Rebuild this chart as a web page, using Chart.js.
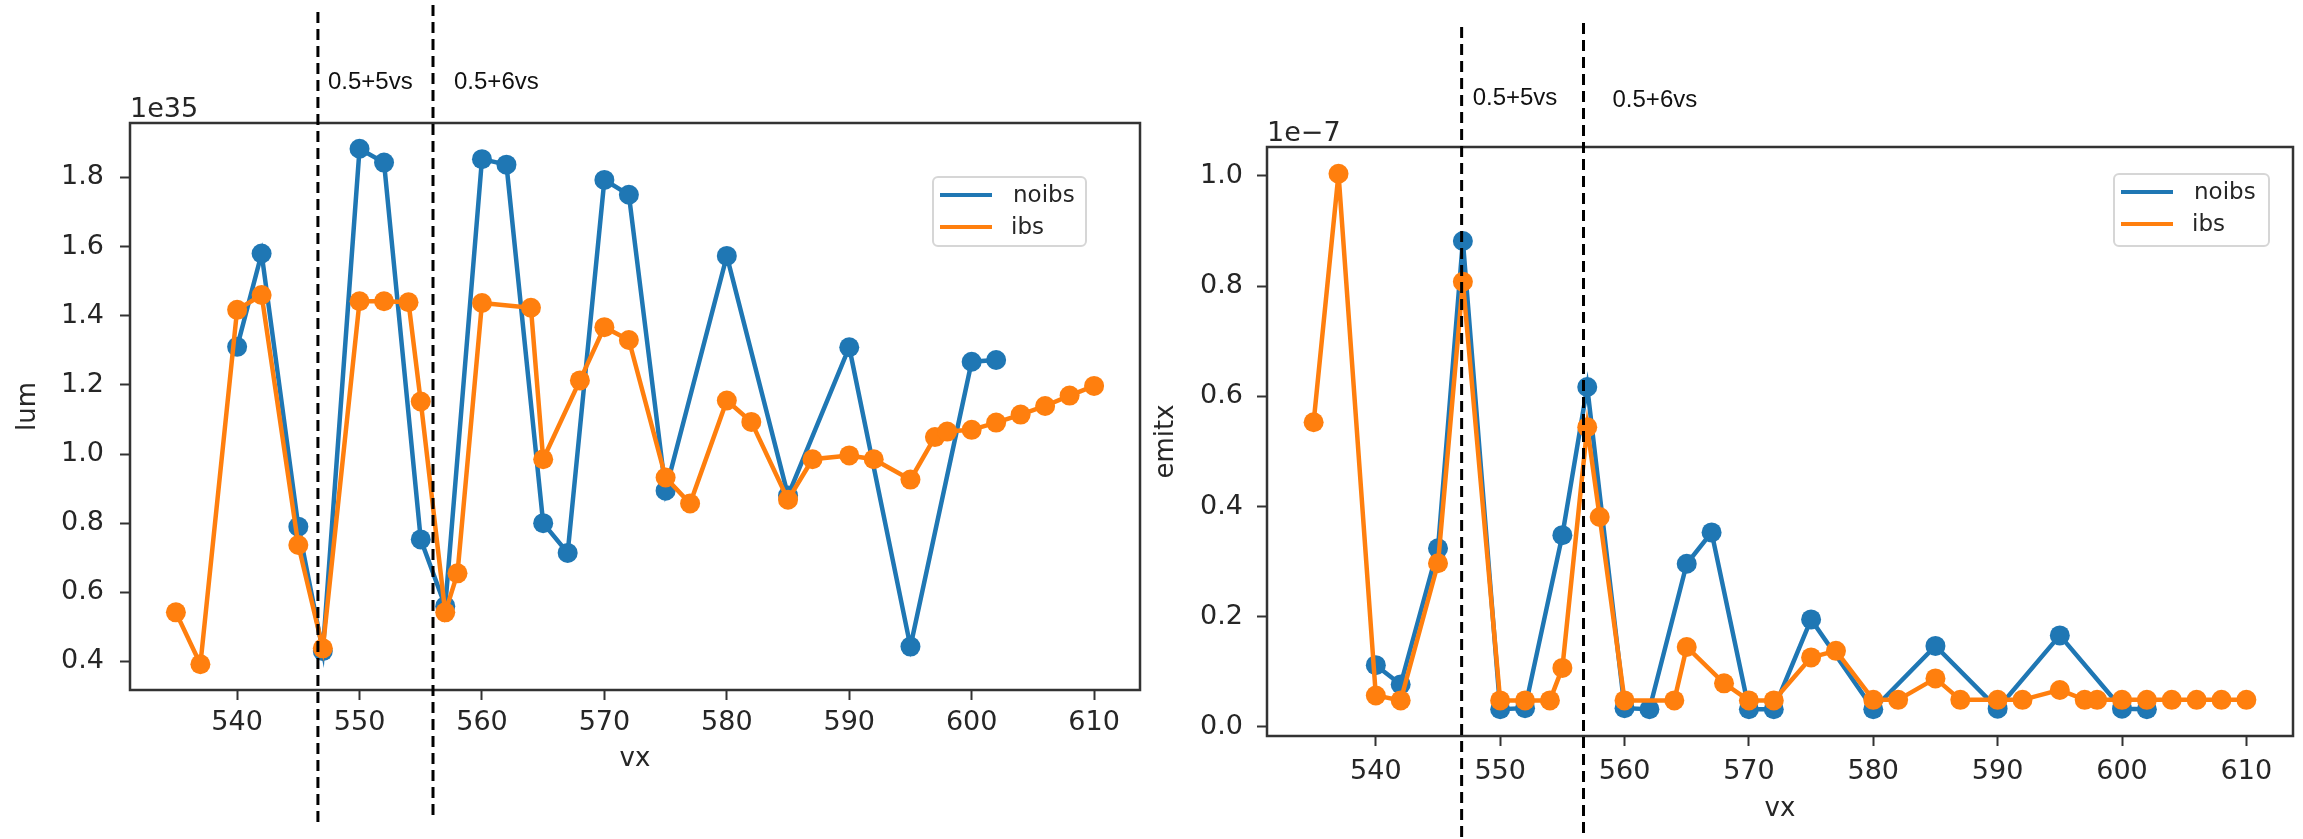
<!DOCTYPE html>
<html>
<head>
<meta charset="utf-8">
<script src="https://cdn.jsdelivr.net/npm/chart.js@4.4.1/dist/chart.umd.min.js"></script>
<style>
  body { margin: 0; background: #fff; width: 2303px; height: 839px; overflow: hidden; }
  #wrap { position: relative; width: 2303px; height: 839px; }
  canvas { position: absolute; top: 0; }
  #lum { left: 0; }
  #emit { left: 1150px; }
</style>
</head>
<body>
<div id="wrap">
  <canvas id="lum" width="1150" height="839"></canvas>
  <canvas id="emit" width="1153" height="839"></canvas>
</div>
<script>
// scan points (vx) for the two runs
const vxNoibs = [540, 542, 545, 547, 550, 552, 555, 557, 560, 562, 565, 567, 570, 572, 575, 580, 585, 590, 595, 600, 602];
const vxIbs = [535, 537, 540, 542, 545, 547, 550, 552, 554, 555, 557, 558, 560, 564, 565, 568, 570, 572, 575, 577,
               580, 582, 585, 587, 590, 592, 595, 597, 598, 600, 602, 604, 606, 608, 610];

// luminosity, in units of 1e35
const lumNoibs = [1.31, 1.58, 0.79, 0.43, 1.883, 1.843, 0.753, 0.56, 1.853, 1.837, 0.80, 0.714, 1.793, 1.75, 0.894,
                  1.573, 0.88, 1.309, 0.443, 1.267, 1.272];
const lumIbs = [0.542, 0.392, 1.417, 1.46, 0.737, 0.438, 1.442, 1.442, 1.439, 1.152, 0.542, 0.655, 1.437, 1.423, 0.985,
                1.213, 1.367, 1.33, 0.932, 0.857, 1.155, 1.093, 0.868, 0.985, 0.996, 0.985, 0.926, 1.049, 1.065, 1.07,
                1.091, 1.114, 1.139, 1.169, 1.197];

// horizontal emittance, in units of 1e-7
const emitNoibs = [0.112, 0.077, 0.324, 0.882, 0.032, 0.034, 0.348, 0.617, 0.034, 0.032, 0.296, 0.353, 0.032, 0.032,
                   0.195, 0.032, 0.147, 0.033, 0.166, 0.033, 0.032];
const emitIbs = [0.553, 1.004, 0.057, 0.048, 0.297, 0.808, 0.048, 0.048, 0.048, 0.107, 0.544, 0.381, 0.048, 0.048,
                 0.145, 0.079, 0.048, 0.048, 0.126, 0.138, 0.049, 0.049, 0.088, 0.049, 0.049, 0.049, 0.067, 0.049,
                 0.049, 0.049, 0.049, 0.049, 0.049, 0.049, 0.049];

const vxTicks = [540, 550, 560, 570, 580, 590, 600, 610];
const lumTicks = [0.4, 0.6, 0.8, 1.0, 1.2, 1.4, 1.6, 1.8];
const emitTicks = [0.0, 0.2, 0.4, 0.6, 0.8, 1.0];

// resonance markers, placed by hand on each panel
const resLabels = ['0.5+5vs', '0.5+6vs'];
const resLum = [546.6, 556.0];
const resEmit = [546.9, 556.7];

const BLUE = '#1f77b4';
const ORANGE = '#ff7f0e';
const INK = '#262626';

Chart.defaults.font.family = '"DejaVu Sans"';

// matplotlib-style 5% margins
function padRange(arrs) {
  const all = [].concat(...arrs);
  const lo = Math.min(...all), hi = Math.max(...all);
  const m = (hi - lo) * 0.05;
  return [lo - m, hi + m];
}

const decor = {
  id: 'decor',
  afterDraw(chart, args, o) {
    const { ctx, chartArea: a } = chart;
    const x = chart.scales.x;
    ctx.save();

    // axes frame
    ctx.strokeStyle = '#333';
    ctx.lineWidth = 2.5;
    ctx.strokeRect(a.left, a.top, a.right - a.left, a.bottom - a.top);

    // offset text
    ctx.fillStyle = INK;
    ctx.font = '27px "DejaVu Sans"';
    ctx.textAlign = 'left';
    ctx.textBaseline = 'alphabetic';
    ctx.fillText(o.offset, a.left, a.top - 6);

    // legend
    const b = o.legend;
    ctx.beginPath();
    ctx.roundRect(b.x, b.y, b.w, b.h, 5);
    ctx.fillStyle = 'rgba(255,255,255,0.8)';
    ctx.fill();
    ctx.strokeStyle = '#d6d6d6';
    ctx.lineWidth = 2;
    ctx.stroke();
    ctx.font = '23px "DejaVu Sans"';
    ctx.textBaseline = 'middle';
    chart.data.datasets.forEach((ds, i) => {
      const ly = b.y + 18 + i * 32;
      ctx.strokeStyle = ds.borderColor;
      ctx.lineWidth = 4;
      ctx.beginPath();
      ctx.moveTo(b.x + 7, ly);
      ctx.lineTo(b.x + 59, ly);
      ctx.stroke();
      ctx.fillStyle = INK;
      ctx.fillText(ds.label, b.x + 80 - i * 2, ly + 1);
    });

    // resonance lines and their labels
    ctx.strokeStyle = '#000';
    ctx.lineWidth = 3;
    ctx.setLineDash([11, 6]);
    o.res.forEach((v, i) => {
      const px = x.getPixelForValue(v);
      ctx.beginPath();
      ctx.moveTo(px, o.lineTop[i]);
      ctx.lineTo(px, o.lineBottom[i]);
      ctx.stroke();
    });
    ctx.setLineDash([]);
    ctx.fillStyle = '#111';
    ctx.font = '24px "Liberation Sans"';
    ctx.textBaseline = 'middle';
    o.res.forEach((v, i) => {
      ctx.fillText(resLabels[i], x.getPixelForValue(v) + o.labelDx[i], o.labelY[i]);
    });
    ctx.restore();
  }
};

function makeChart(id, c) {
  const xr = padRange([vxNoibs, vxIbs]);
  const yr = padRange([c.noibs, c.ibs]);
  return new Chart(document.getElementById(id), {
    type: 'line',
    data: {
      datasets: [
        { label: 'noibs', data: vxNoibs.map((v, i) => ({ x: v, y: c.noibs[i] })),
          borderColor: BLUE, backgroundColor: BLUE, order: 1 },
        { label: 'ibs', data: vxIbs.map((v, i) => ({ x: v, y: c.ibs[i] })),
          borderColor: ORANGE, backgroundColor: ORANGE, order: 0 }
      ]
    },
    options: {
      responsive: false,
      animation: false,
      layout: { padding: { left: 0, top: c.top, right: c.right, bottom: 0 } },
      elements: {
        line: { borderWidth: 4.5, tension: 0 },
        point: { radius: 10, hoverRadius: 10, borderWidth: 0 }
      },
      plugins: {
        legend: { display: false },
        tooltip: { enabled: false },
        decor: c.decor
      },
      scales: {
        x: {
          type: 'linear', min: xr[0], max: xr[1],
          afterBuildTicks: s => { s.ticks = vxTicks.map(v => ({ value: v })); },
          afterFit: s => { s.height = c.xHeight; },
          border: { display: false },
          grid: { drawOnChartArea: false, tickLength: 10, tickWidth: 2, tickColor: '#333' },
          ticks: { font: { size: 27 }, color: INK, padding: c.xPad, maxRotation: 0, autoSkip: false },
          title: { display: true, text: 'vx', font: { size: 26 }, color: INK, padding: { top: 0, bottom: c.xTitlePad } }
        },
        y: {
          type: 'linear', min: yr[0], max: yr[1],
          afterBuildTicks: s => { s.ticks = c.ticks.map(v => ({ value: v })); },
          afterFit: s => { s.width = c.yWidth; },
          border: { display: false },
          grid: { drawOnChartArea: false, tickLength: 10, tickWidth: 2, tickColor: '#333' },
          ticks: { font: { size: 27 }, color: INK, padding: c.yPad, callback: v => v.toFixed(1) },
          title: { display: true, text: c.ylabel, font: { size: 26 }, color: INK, padding: { top: c.yTitlePad, bottom: 0 } }
        }
      }
    },
    plugins: [decor]
  });
}

makeChart('lum', {
  noibs: lumNoibs, ibs: lumIbs, ticks: lumTicks, ylabel: 'lum',
  top: 123, right: 1, xHeight: 149, yWidth: 130,
  xPad: 7, yPad: 16, xTitlePad: 64, yTitlePad: 13,
  decor: {
    offset: '1e35',
    legend: { x: 933, y: 177, w: 153, h: 69 },
    res: resLum, lineTop: [12, 5], lineBottom: [825, 818],
    labelDx: [10, 21], labelY: [82, 82]
  }
});

makeChart('emit', {
  noibs: emitNoibs, ibs: emitIbs, ticks: emitTicks, ylabel: 'emitx',
  top: 147, right: 5, xHeight: 103, yWidth: 117,
  xPad: 10, yPad: 14, xTitlePad: 14, yTitlePad: 1,
  decor: {
    offset: '1e\u22127',
    legend: { x: 964, y: 174, w: 155, h: 72 },
    res: resEmit, lineTop: [27, 23], lineBottom: [839, 839],
    labelDx: [11, 29], labelY: [98, 100]
  }
});
</script>
</body>
</html>
